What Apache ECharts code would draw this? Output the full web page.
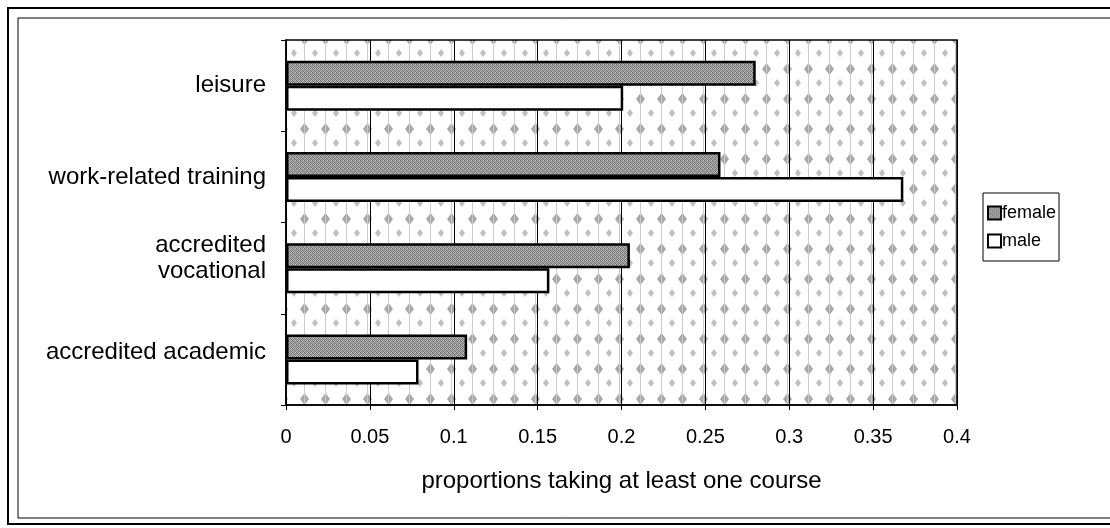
<!DOCTYPE html>
<html>
<head>
<meta charset="utf-8">
<script src="https://cdn.jsdelivr.net/npm/echarts@6/dist/echarts.min.js"></script>
<style>html,body{margin:0;padding:0;background:#fff}#c{width:1110px;height:528px}</style>
</head>
<body>
<div id="c"></div>
<script>
var categories = ['accredited academic', 'accredited vocational', 'work-related training', 'leisure'];
var femaleValues = [0.108, 0.205, 0.259, 0.280];
var maleValues = [0.079, 0.157, 0.368, 0.201];
var xTicks = [0, 0.05, 0.1, 0.15, 0.2, 0.25, 0.3, 0.35, 0.4];

function makePattern(w, h, draw) {
  var c = document.createElement('canvas');
  c.width = w; c.height = h;
  var ctx = c.getContext('2d');
  draw(ctx, w, h);
  return { image: c, repeat: 'repeat' };
}
// deterministic dither texture for female bars
var femaleFill = makePattern(4, 4, function (ctx) {
  var g = ['#6a6a6a', '#b0b0b0', '#868686', '#c4c4c4',
           '#9c9c9c', '#767676', '#bababa', '#8a8a8a',
           '#909090', '#bebebe', '#6e6e6e', '#a6a6a6',
           '#b4b4b4', '#828282', '#a2a2a2', '#7a7a7a'];
  for (var i = 0; i < 16; i++) { ctx.fillStyle = g[i]; ctx.fillRect(i % 4, Math.floor(i / 4), 1, 1); }
});
// speckled background texture
var bgFill = makePattern(21, 30, function (ctx, w, h) {
  ctx.fillStyle = '#ffffff'; ctx.fillRect(0, 0, w, h);
  ctx.fillStyle = '#a8a8a8';
  ctx.beginPath(); ctx.moveTo(10.5, 3); ctx.lineTo(15, 9); ctx.lineTo(10.5, 15); ctx.lineTo(6, 9); ctx.closePath(); ctx.fill();
  ctx.fillStyle = '#cccccc';
  ctx.fillRect(10, 0, 1, 30);
  ctx.fillStyle = '#c0c0c0';
  ctx.beginPath(); ctx.moveTo(0, 19); ctx.lineTo(3, 23); ctx.lineTo(0, 27); ctx.closePath(); ctx.fill();
  ctx.beginPath(); ctx.moveTo(21, 19); ctx.lineTo(18, 23); ctx.lineTo(21, 27); ctx.closePath(); ctx.fill();
});

var chart = echarts.init(document.getElementById('c'), null, { renderer: 'canvas' });
var font = 'Liberation Sans, Arial, Helvetica, sans-serif';
chart.setOption({
  animation: false,
  backgroundColor: '#ffffff',
  textStyle: { fontFamily: font, color: '#000' },
  graphic: [
    { type: 'rect', shape: { x: 8, y: 8, width: 1120, height: 516 }, style: { fill: 'none', stroke: '#000', lineWidth: 2 }, silent: true },
    { type: 'rect', shape: { x: 18, y: 18, width: 1110, height: 500 }, style: { fill: 'none', stroke: '#000', lineWidth: 1 }, silent: true }
  ],
  grid: {
    left: 286, right: 153, top: 40, bottom: 123,
    show: true, backgroundColor: bgFill, borderColor: '#000', borderWidth: 1.5
  },
  legend: {
    orient: 'vertical',
    left: 983, top: 193,
    data: ['female', 'male'],
    icon: 'rect',
    itemWidth: 13, itemHeight: 13, itemGap: 10,
    padding: [11, 3, 11, 4],
    borderColor: '#000', borderWidth: 1,
    textStyle: { fontFamily: font, fontSize: 18, color: '#000', padding: [0, 0, 0, -4] }
  },
  xAxis: {
    type: 'value', min: 0, max: 0.4, interval: 0.05,
    name: 'proportions taking at least one course',
    nameLocation: 'middle', nameGap: 64,
    nameTextStyle: { fontFamily: font, fontSize: 24, color: '#000' },
    axisLine: { show: true, lineStyle: { color: '#000', width: 1.5 } },
    axisTick: { show: true, length: 5, lineStyle: { color: '#000' } },
    axisLabel: {
      fontFamily: font, fontSize: 20, color: '#000', margin: 22,
      formatter: function (v) { return String(parseFloat(v.toFixed(2))); }
    },
    splitLine: { show: true, lineStyle: { color: '#000', width: 1 } }
  },
  yAxis: {
    type: 'category', data: categories,
    axisLine: { show: true, lineStyle: { color: '#000', width: 1.5 } },
    axisTick: { show: true, length: 5, lineStyle: { color: '#000' } },
    axisLabel: {
      fontFamily: font, fontSize: 24, color: '#000', margin: 20, lineHeight: 26,
      formatter: function (v) {
        if (v === 'accredited vocational') return '{voc|accredited\nvocational}';
        if (v === 'accredited academic') return '{aca|' + v + '}';
        return v;
      },
      rich: {
        voc: { fontFamily: font, fontSize: 24, lineHeight: 26, color: '#000', align: 'right', padding: [0, 0, 20, 0] },
        aca: { fontFamily: font, fontSize: 24, color: '#000', padding: [0, 0, 14, 0] }
      }
    }
  },
  series: [
    {
      name: 'female', type: 'bar', data: femaleValues,
      barWidth: 25, barGap: '0%', barCategoryGap: '45%',
      itemStyle: { color: femaleFill, borderColor: '#000', borderWidth: 2.5 }
    },
    {
      name: 'male', type: 'bar', data: maleValues,
      barWidth: 25, barGap: '0%', barCategoryGap: '45%',
      itemStyle: { color: '#ffffff', borderColor: '#000', borderWidth: 2.5 }
    }
  ]
});
</script>
</body>
</html>
